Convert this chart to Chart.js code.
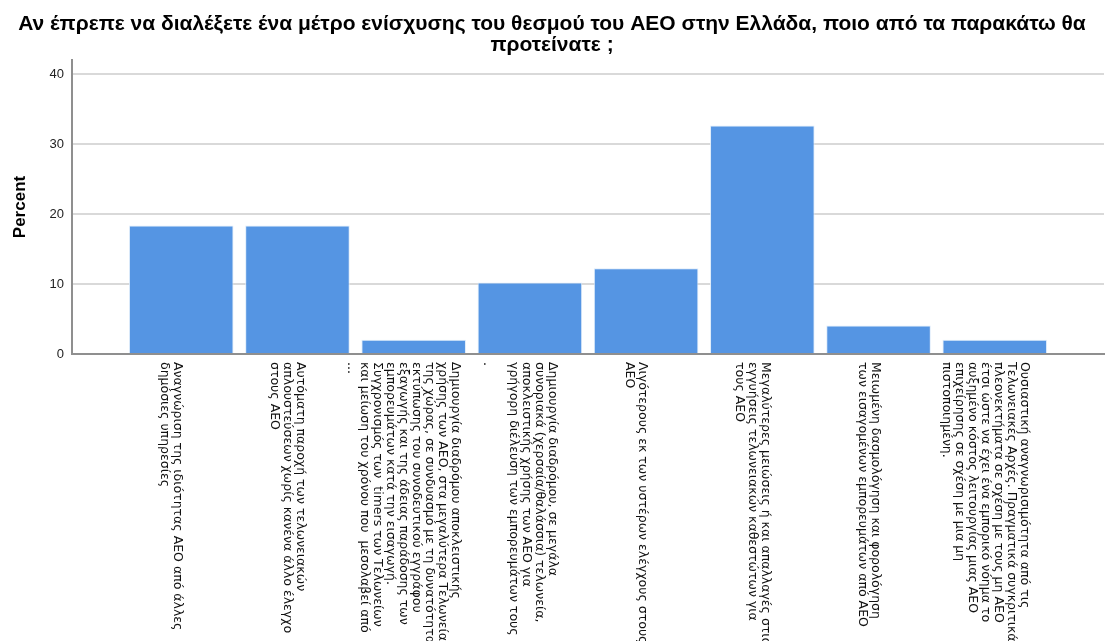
<!DOCTYPE html>
<html>
<head>
<meta charset="utf-8">
<script src="https://cdn.jsdelivr.net/npm/chart.js@4/dist/chart.umd.min.js"></script>
<style>
  html, body { margin: 0; padding: 0; background: #ffffff; }
  #wrap { width: 1106px; height: 641px; position: relative; }
</style>
</head>
<body>
<div id="wrap"><canvas id="c" width="1106" height="641"></canvas></div>
<script>
// ---- data ----
const titleLines = [
  "Αν έπρεπε να διαλέξετε ένα μέτρο ενίσχυσης του θεσμού του ΑΕΟ στην Ελλάδα, ποιο από τα παρακάτω θα",
  "προτείνατε ;"
];
const categories = [
  "Αναγνώριση της ιδιότητας ΑΕΟ από άλλες δημόσιες υπηρεσίες",
  "Αυτόματη παροχή των τελωνειακών απλουστεύσεων χωρίς κανένα άλλο έλεγχο στους ΑΕΟ",
  "Δημιουργία διαδρόμου αποκλειστικής χρήσης των ΑΕΟ ... Συγχρονισμός των timers των Τελωνείων",
  "Δημιουργία διαδρόμου, σε μεγάλα συνοριακά (χερσαία/θαλάσσια) τελωνεία, αποκλειστικής χρήσης των ΑΕΟ",
  "Λιγότερους εκ των υστέρων ελέγχους στους ΑΕΟ",
  "Μεγαλύτερες μειώσεις ή και απαλλαγές στις εγγυήσεις τελωνειακών καθεστώτων για τους ΑΕΟ",
  "Μειωμένη δασμολόγηση και φορολόγηση των εισαγομένων εμπορευμάτων από ΑΕΟ",
  "Ουσιαστική αναγνωρισιμότητα από τις Τελωνειακές Αρχές"
];
const tickLabels = [
  ["Αναγνώριση της ιδιότητας ΑΕΟ από άλλες", "δημόσιες υπηρεσίες"],
  ["Αυτόματη παροχή των τελωνειακών", "απλουστεύσεων χωρίς κανένα άλλο έλεγχο", "στους ΑΕΟ"],
  ["Δημιουργία διαδρόμου αποκλειστικής", "χρήσης των ΑΕΟ, στα μεγαλύτερα Τελωνεία",
   "της χώρας, σε συνδυασμό με τη δυνατότητα", "εκτύπωσης του συνοδευτικού εγγράφου",
   "εξαγωγής και της άδειας παράδοσης των", "εμπορευμάτων κατά την εισαγωγή.",
   "Συγχρονισμός των  timers των Τελωνείων", "και μείωση του χρόνου που  μεσολαβεί από", "..."],
  ["Δημιουργία διαδρόμου, σε μεγάλα", "συνοριακά (χερσαία/θαλάσσια) τελωνεία,",
   "αποκλειστικής χρήσης των ΑΕΟ για", "γρήγορη διέλευση των εμπορευμάτων τους", "", "."],
  ["Λιγότερους εκ των υστέρων ελέγχους στους", "ΑΕΟ"],
  ["Μεγαλύτερες μειώσεις ή και απαλλαγές στις", "εγγυήσεις τελωνειακών καθεστώτων για", "τους ΑΕΟ"],
  ["Μειωμένη δασμολόγηση και φορολόγηση", "των εισαγομένων εμπορευμάτων από ΑΕΟ"],
  ["Ουσιαστική αναγνωρισιμότητα από τις", "Τελωνειακές Αρχές. Πραγματικά συγκριτικά",
   "πλεονεκτήματα σε σχέση με τους μη ΑΕΟ", "έτσι ώστε να έχει ένα εμπορικό νόημα το",
   "αυξημένο κόστος λειτουργίας μιας ΑΕΟ", "επιχείρησης σε σχέση με μια μη", "πιστοποιημένη."]
];
const percentValues = [18.37, 18.37, 2.04, 10.20, 12.24, 32.65, 4.08, 2.04];
const yTicks = [0, 10, 20, 30, 40];

const X_MIN = -0.94, X_MAX = 7.94;

// ---- rotated category labels drawn at the x-scale tick positions ----
const rotatedLabels = {
  id: 'rotatedLabels',
  afterDraw(chart) {
    const xs = chart.scales.x;
    const ctx = chart.ctx;
    const lh = 13;
    ctx.save();
    ctx.font = '12.5px "DejaVu Sans", sans-serif';
    ctx.fillStyle = '#111';
    ctx.textAlign = 'left';
    ctx.textBaseline = 'middle';
    tickLabels.forEach((lines, i) => {
      const px = xs.getPixelForValue(i);
      const n = lines.length;
      const first = px + (n - 1) * lh / 2 - 10;
      lines.forEach((ln, k) => {
        ctx.save();
        ctx.translate(first - k * lh, chart.chartArea.bottom + 8);
        ctx.rotate(Math.PI / 2);
        ctx.fillText(ln, 0, 0);
        ctx.restore();
      });
    });
    ctx.restore();
  }
};

new Chart(document.getElementById('c'), {
  type: 'bar',
  data: {
    labels: categories,
    datasets: [{
      label: 'Percent',
      data: percentValues.map((v, i) => ({ x: i, y: v })),
      backgroundColor: '#5595E3',
      borderColor: 'rgba(220,234,250,0.9)',
      borderWidth: 1,
      categoryPercentage: 1.0,
      barPercentage: 0.9
    }]
  },
  options: {
    responsive: false,
    animation: false,
    layout: { padding: { left: 0, right: 2, top: 0, bottom: 287 } },
    plugins: {
      legend: { display: false },
      tooltip: { enabled: false },
      title: {
        display: true,
        text: titleLines,
        color: '#000',
        font: { family: '"Liberation Sans", Arial, sans-serif', size: 21, weight: 'bold', lineHeight: 1.0 },
        padding: { top: 13.5, bottom: 4.5 }
      }
    },
    scales: {
      x: {
        type: 'linear',
        offset: false,
        bounds: 'data',
        min: X_MIN,
        max: X_MAX,
        afterBuildTicks(scale) {
          scale.ticks = categories.map((c, i) => ({ value: i }));
          scale.min = X_MIN;
          scale.max = X_MAX;
        },
        grid: { display: false, drawTicks: false, offset: false },
        border: { display: true, color: '#8f8f8f', width: 2 },
        ticks: { display: false }
      },
      y: {
        min: 0,
        max: 42,
        afterFit(scale) { scale.width = 72; },
        afterBuildTicks(scale) { scale.ticks = yTicks.map(v => ({ value: v })); },
        grid: { color: '#d9d9d9', lineWidth: 2, drawTicks: false },
        border: { display: true, color: '#8f8f8f', width: 2 },
        ticks: {
          padding: 8,
          color: '#222',
          font: { family: '"Liberation Sans", Arial, sans-serif', size: 13 }
        },
        title: {
          display: true,
          text: 'Percent',
          color: '#000',
          font: { family: '"Liberation Sans", Arial, sans-serif', size: 17, weight: 'bold' },
          padding: { top: 10, bottom: 0 }
        }
      }
    }
  },
  plugins: [rotatedLabels]
});
</script>
</body>
</html>
